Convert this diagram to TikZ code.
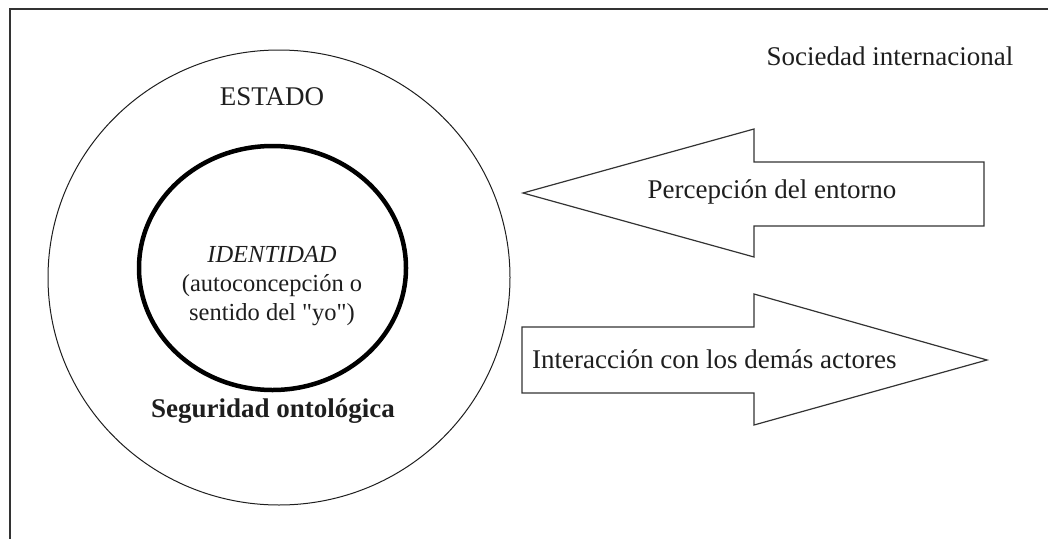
\documentclass[tikz,border=0pt]{standalone}
\usepackage{fontspec}
\setmainfont{Liberation Serif}
\newfontfamily\plainquote{Liberation Serif}
\definecolor{ink}{HTML}{1E1E1E}
\definecolor{linegray}{HTML}{333333}
\begin{document}
\begin{tikzpicture}[x=1pt,y=-1pt,
  bigtext/.style={font=\fontsize{27}{32}\selectfont, text=ink, inner sep=0pt},
  smalltext/.style={font=\fontsize{24.5}{29}\selectfont, text=ink, inner sep=0pt, align=center},
  framestyle/.style={draw=linegray, line width=1.4pt},
  outerring/.style={draw=ink, line width=1pt},
  innerring/.style={draw=black, line width=4.5pt},
  blockarrow/.style={draw=linegray, line width=1.2pt, line join=miter}]
\useasboundingbox (0,0) rectangle (1048,538);
% frame (continues beyond right and bottom edges)
\coordinate (fr) at (1050,9);
\coordinate (fc) at (10,9);
\coordinate (fb) at (10,540);
\draw[framestyle] (fr) -- (fc) -- (fb);
% circles
\draw[outerring] (279,277.5) ellipse [x radius=231, y radius=227.5];
\draw[innerring] (272.5,268) ellipse [x radius=133.5, y radius=122];
% block arrows
\draw[blockarrow] (523,193) -- (754,129) -- (754,162) -- (984,162) -- (984,226) -- (754,226) -- (754,257) -- cycle;
\draw[blockarrow] (522,327) -- (754,327) -- (754,294) -- (987,360) -- (754,425) -- (754,393) -- (522,393) -- cycle;
% texts
\node[bigtext] (soc) at (890,56) {Sociedad internacional};
\node[bigtext] (estado) at (272,97) {ESTADO};
\node[smalltext] (ident) at (272,286) {\textit{IDENTIDAD}\\(autoconcepción o\\sentido del {\plainquote"}yo{\plainquote"})};
\node[bigtext, font=\fontsize{27}{32}\selectfont\bfseries] (seg) at (273,411) {Seguridad ontológica};
\node[bigtext] (perc) at (772,192) {Percepción del entorno};
\node[bigtext, anchor=west] (inter) at (532,359) {Interacción con los demás actores};
\end{tikzpicture}
\end{document}
